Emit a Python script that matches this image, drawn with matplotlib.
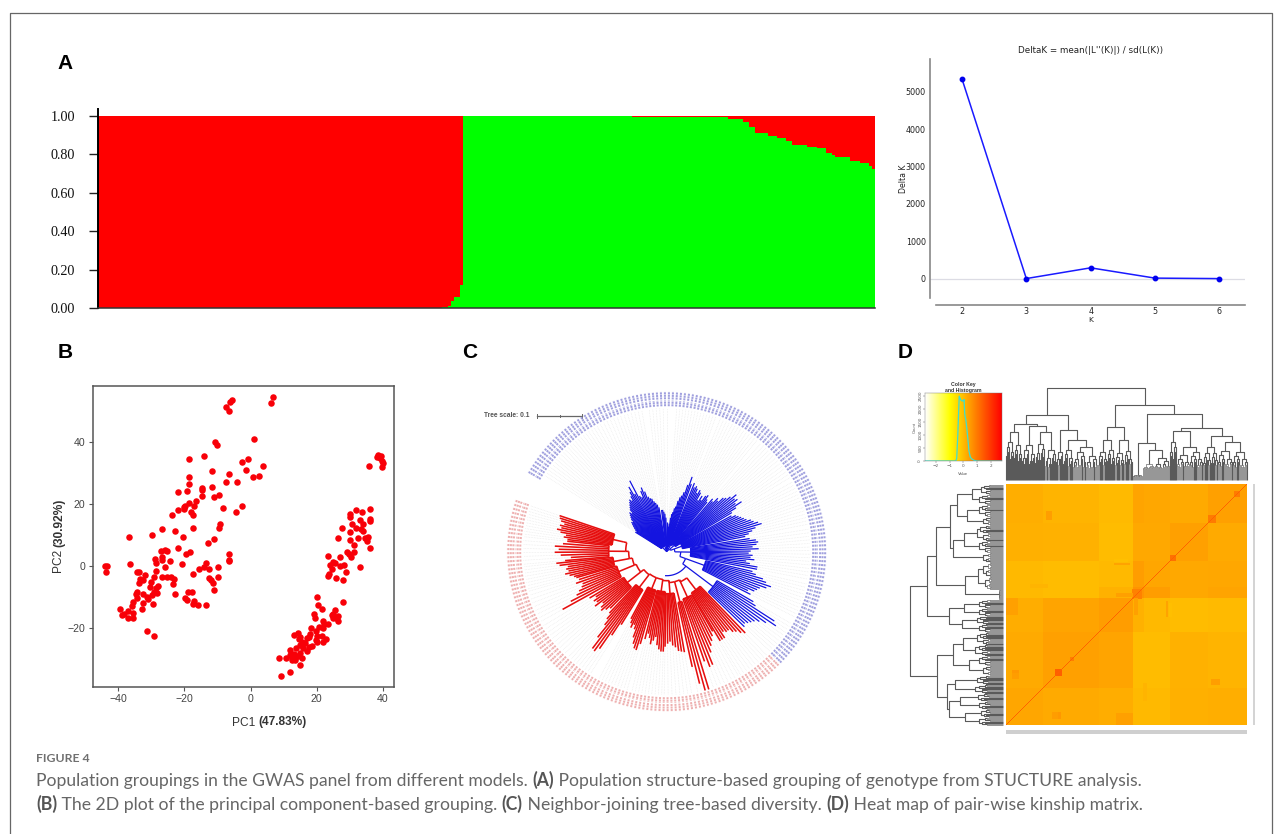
import numpy as np
import matplotlib
matplotlib.use('Agg')
import matplotlib.pyplot as plt
from matplotlib.collections import LineCollection
from matplotlib.colors import LinearSegmentedColormap
from matplotlib.patches import Rectangle

W, H = 1282, 834

# ---------- Panel A: STRUCTURE bar plot, runs of (samples, green share)
struct_counts = [112, 2, 1, 1, 2, 1, 55, 31, 5, 2, 2, 4, 3, 3, 2, 5, 3, 3, 2, 1, 5, 3, 3, 1, 1]
struct_green = [0, .004, .012, .036, .059, .12, 1, .995, .983, .971, .941, .913, .897, .885,
                .868, .851, .84, .832, .805, .797, .788, .767, .753, .741, .724]
struct_ticks = [0, .2, .4, .6, .8, 1.0]
struct_labels = ['0.00', '0.20', '0.40', '0.60', '0.80', '1.00']

# ---------- Panel A: Delta K
k_values = [2, 3, 4, 5, 6]
delta_k = [5340, 3, 290, 15, 2]

# ---------- Panel B: PCA
pc1 = [-44,-43.3,-43.8,-36.9,-36.4,-29.8,-26.8,-22.8,-20.3,-22,-27,-25.9,-25.3,-28.8,-28.6,-26.8,-26.8,-24.5,-25.8,-28.6,
       -19.4,-18.3,-20.7,-17.5,-15.7,-14,-13.5,-12.6,-9.9,-9.7,-12.5,-12.1,-11.5,-11.2,-6.5,-6.4,-6.6,-13,-11,
       -18.6,-14,-10.9,-10.1,-7.4,-6.5,-6.1,-5.5,6.2,6.7,1,-2.6,-.8,-1.4,3.8,2.6,.7,-6.4,-7.3,-4.2,-11.7,-11.7,-14.6,-14.6,-14.6,
       -11,-9.4,-18.5,-18.5,-19.3,-22.1,-16.4,-18.6,-19.7,-20,-20.1,-22.1,-17.2,-18.1,-17.3,-23.8,-8.3,-2.7,-4.5,-9.3,-9.6,-17.5,
       -34.4,-33.7,-31.9,-33.4,-32.4,-33.7,-30,-30.3,-29.2,-26.8,-25.3,-24,-23.3,-23.6,-22.8,-28.1,-28.6,-29.2,-28.2,-29.9,-31.2,
       -30.9,-32.4,-29.5,-32.9,-32.6,-34.3,-34.7,-34.3,-35.5,-35.9,-35.5,-37.1,-39.4,-38.9,-38.4,-37,-35.7,-31.4,-29.3,-18.9,-17.6,
       -19.7,-19.1,-17.2,-17.4,-15.8,-13.4,
       36,38.7,39.4,38.4,39.2,39.7,40,39.8,31.9,33.7,36.3,30.2,30.1,36.3,36.3,33.2,30.6,33.9,27.8,31.8,33.3,33.9,30.2,26.4,32.4,30.2,
       35.7,34.7,35.2,31.2,36.3,31.4,29.2,29.8,30.4,23.6,27,24.9,25.6,24.1,28.4,27.2,33,24.8,29,23.7,23.4,26,28.1,
       20.1,20.3,21.6,27.9,25.6,25.1,24.6,26.4,25.1,25.9,26.4,19.2,19.5,22,22.1,23.4,18.4,20.7,21.8,19.9,18.1,17.6,20.1,21.7,14.3,13.1,
       14.9,17.2,19.7,22.7,21.9,20.2,18.7,14.6,15.6,16.6,15.1,13.9,15.9,17.6,11.9,17,15.1,13.1,12.1,14.3,8.6,10.8,12.6,13.4,15.6,12.6,
       13.5,14.9,9.3,12.1]
pc2 = [0,0,-1.7,9.6,.9,10,12,11.5,9.4,6,4.8,5.3,5.1,2.3,1.2,3.1,2,1.8,-.3,-1.5,
       4,4.7,.8,-2.4,-.9,-.1,1,-.9,-.2,-3.4,-3.9,-4.4,-5.3,-7.5,4,1.9,1.6,7.5,8.7,
       34.5,35.7,40.1,39.3,51.3,50.1,52.9,53.5,52.6,54.6,41.1,33.8,34.5,31.1,32.4,29.2,28.7,29.8,27.3,27.1,30.6,25.7,25.4,24.5,22.6,
       22.4,22.9,28.8,26.6,24.4,24,21.2,20.6,19.6,19.2,18.5,18.3,19.5,17.6,16.5,16.6,18.7,19.5,17.4,13.6,12.3,12.3,
       -1.9,-1.8,-2.8,-4.2,-4.3,-5.2,-4.9,-6.6,-3.5,-3.3,-3.3,-3.3,-4.1,-5.6,-8.8,-6.3,-7.1,-8.2,-8.6,-9.2,-9.8,
       -10.6,-11.7,-12.1,-13.9,-9,-8.2,-9,-10.2,-11.5,-12.8,-15,-14.4,-13.9,-15.6,-15.5,-16.8,-16.5,-20.9,-22.3,-8.2,-8.2,
       -10.3,-10.8,-11.1,-12.1,-12.4,-12.3,
       32.3,36,35.7,35.2,34.9,34.1,33.3,32.2,18.2,17.4,18.5,16.8,15.8,15.2,14.7,15,13.7,13.6,12.4,12.3,12,11.4,11,9,9,8.4,
       9.6,9,8.1,6.9,5.8,4.7,4.5,3.9,3.1,3.2,2.9,1.5,1.2,.6,.6,.2,-.3,-1,-1.8,-2.6,-3,-3.8,-4.4,
       -9.8,-12.3,-13.6,-11.4,-14.2,-15.2,-15.7,-15.9,-16.5,-16.8,-17.6,-15.4,-16.8,-17.5,-18.6,-18.7,-19.9,-19.5,-20,-20.9,-21.9,-22.7,-22.4,-22.4,-21.4,-22.2,
       -22.7,-23.2,-23.8,-23.5,-24.3,-24.3,-25.6,-23.5,-24.3,-24.8,-25.4,-26.2,-26.2,-26.1,-27.1,-27.3,-27.9,-28.1,-28.7,-29,-29.6,-29.6,-29.4,-29.4,-29.7,-30.2,
       -30.2,-31.7,-35.3,-34.1]

# ---------- Panel C: tree clades, clockwise. Radii are in pixels from the tree centre.
blue_tips = [
    [37,36,38,40,42,44,46,45,48,50,52,54,52,56,58,60,62,64,62,66,70,75,66],
    [80,62,60,66,69,64,58,56,55,52,50,48,45],
    [42,42,40,38,34,30],
    [25,28,34,38,40,44,46,52,56,58,62,70,79,72],
    [74,70,72,70,66,70,68,60,66,62,68,70,66,64],
    [70,68,74,72,78,80,84,90,86,88,84,90,82,76],
    [74,78,80,82,84,86,90,92,96,99,92,88,84,80],
    [84,90,92,90,86,92,84,82,86,84,88,80,84,92,92],
    [88,92,100,104,110,106,100,98,96,90,94],
    [100,104,128,132,122,116,112,110,108,106,108]]
blue_span = [(148, 119), (117.5, 100), (97, 90), (86, 70), (68, 51), (49, 31), (29, 11), (9, -11), (-13, -27), (-30, -44)]
blue_base = [6, 6, 6, 5, 8, 10, 16, 24, 40, 58]
blue_stem = [0, 0, 0, 0, 2, 4, 8, 14, 20, 24]
red_tips = [
    [113,110,106,104,100,100,98,104,104,104],
    [92,96,100,104,110,122,123,116],
    [144,144,136,118],
    [102,101,100,96,94,90,92,95],
    [100,100,98,94,86,90,94,88,84,90],
    [96,103,102,98,92,84,80,84,80,76],
    [86,100,118,123,122,110,96,90,84],
    [80,84,88,86,82,90,86,88,84,90],
    [119,108,100,96,92,90,96,92,94],
    [96,100,104,100,102,100,108,111],
    [102,96,106,112,108,112,104,100],
    [100,104,102,108,112,108,110,106,110,112,113]]
red_span = [(-46, -59), (-60, -71), (-73, -77.5), (-80, -91), (-92, -104), (-106, -118), (-122, -133), (-135, -149),
            (-151, -164), (-165, -174), (-175, -186), (-187, -198.6)]
red_base = [48, 50, 52, 42, 40, 40, 45, 50, 52, 54, 58, 55]
red_stem = [33, 31, 31, 29, 28, 28, 29, 33, 35, 38, 41, 44]

# ---------- Panel D: dendrograms as (height, left, right); tufts as (height, leaves)
top_tree = (92.3,
    (65.7,
        (55.7, (48.3, (38, 8), (35, 8)), (54, (35, 13), (47.7, (36, 10), (30, 11)))),
        (49.7, (28, 7), (39.7, (30, 10), (33, 25)))),
    (75.7,
        (53.3, (40, (28, 9), (30, 8)), (40, (27, 9), (29, 9))),
        (66.7,
            (37.3, (5, 10), (30, (16, 12), (22, 15))),
            (52.3,
                (49.3, (38, 7), (33, (25, 13), (28, 13))),
                (44.3, (33, (27, 9), (27, 6)), (38, (29, 15), (28, 15)))))))
left_tree = (92.7,
    (76,
        (67,
            (52.7,
                (45.3, (31, (22, 10), (24, 10)), (36, (24, 12), (20, 9))),
                (49.3, (39, (26, 15), (24, 12)), (20, 10))),
            (37.3, (25, (20, 14), (18, 13)), (4, 10))),
        (53.7, (39, (24, 9), (24, 8)), (41, (26, 8), (24, 8)))),
    (66,
        (50, (40, (26, 12), (28, 11)), (34, (24, 10), (20, 10))),
        (56, (48, (26, 9), (28, 9)), (54, (43, (25, 8), (24, 8)), (38, (22, 8), (24, 8))))))

# Kinship matrix: block sizes and block scores, bottom-left to top-right
kin_sizes = [37, 56, 34, 11, 26, 38, 39]
kin_blocks = [
    [.31, .25, .21, .03, .03, .17, .19],
    [.25, .41, .33, -.01, -.01, .13, .09],
    [.21, .33, .45, .13, .03, -.01, .01],
    [.03, -.01, .13, .58, .45, .28, .33],
    [.03, -.01, .03, .45, .31, .27, .30],
    [.17, .13, -.01, .28, .27, .39, .25],
    [.19, .09, .01, .33, .30, .25, .39]]
kin_patches = [(49, 56, 49, 56, 1.35), (164, 170, 164, 170, 1.1), (202, 210, 202, 210, .95),
               (126, 136, 126, 136, .85), (228, 234, 228, 234, .95), (64, 68, 64, 68, .9),
               (6, 13, 49, 55, .5), (46, 52, 6, 13, .45), (205, 214, 40, 46, .42), (110, 127, 0, 12, .4),
               (163, 166, 108, 122, -.05), (108, 124, 160, 162, .35), (110, 127, 128, 132, .4),
               (24, 42, 137, 141, .1)]
kin_diag = 1.3
hist_x = [-2.77, -.55, -.48, -.4, -.3, -.2, -.1, 0, .05, .1, .2, .3, .4, .5, .6, .8, 1, 2.77]
hist_y = [0, 0, 100, 1000, 2480, 2350, 2300, 2300, 2350, 1800, 1500, 1000, 400, 150, 80, 20, 0, 0]

caption_1 = [("Population groupings in the GWAS panel from different models. ", 0), ("(A)", 1),
             (" Population structure-based grouping of genotype from STUCTURE analysis.", 0)]
caption_2 = [("(B)", 1), (" The 2D plot of the principal component-based grouping. ", 0), ("(C)", 1),
             (" Neighbor-joining tree-based diversity. ", 0), ("(D)", 1), (" Heat map of pair-wise kinship matrix.", 0)]

SANS = 'Liberation Sans'
fig = plt.figure(figsize=(W / 100, H / 100), dpi=100, facecolor='white')

def px_axes(l, t, r, b, **kw):
    return fig.add_axes([l / W, 1 - b / H, (r - l) / W, (b - t) / H], **kw)

page = px_axes(0, 0, W, H)
page.set_xlim(0, W); page.set_ylim(H, 0); page.axis('off')
page.plot([9.5, 9.5, 1272, 1272], [H, 12.5, 12.5, H], color='#666666', lw=0.9)
renderer = fig.canvas.get_renderer()

def measure(s, b, size, family):
    t = page.text(0, 0, '|' + s + '|', fontsize=size, family=family, fontweight='bold' if b else 'normal')
    w = t.get_window_extent(renderer).width
    t.set_text('||'); w -= t.get_window_extent(renderer).width
    t.remove()
    return w

def run_text(x, y, runs, size, rotation=0, color='#666666', bold_color='#555555', family='Lato'):
    for s, b in runs:
        page.text(x, y, s, fontsize=size, family=family, fontweight='bold' if b else 'normal',
                  color=bold_color if b else color, rotation=rotation, ha='left', va='baseline',
                  rotation_mode='anchor')
        w = measure(s, b, size, family)
        if rotation == 90:
            y -= w
        else:
            x += w

def run_width(runs, size, family='Lato'):
    return sum(measure(s, b, size, family) for s, b in runs)

# Caption
page.text(36, 762, 'FIGURE 4', fontsize=8.8, family='Lato', fontweight='bold', color='#707070', va='baseline')
run_text(36, 786, caption_1, 10 * 1106.5 / run_width(caption_1, 10))
run_text(36, 810, caption_2, 10 * 1109 / run_width(caption_2, 10))

# Panel letters
for s, x, y in [('A', 65, 63), ('B', 65, 352), ('C', 470, 352), ('D', 905, 352)]:
    page.text(x, y, s, fontsize=15, family=SANS, fontweight='bold', color='black', ha='center', va='center')

# ---------- A: structure
ax = px_axes(98, 109, 875, 308)
counts = np.array(struct_counts)
green = np.repeat(struct_green, counts)
edges = np.arange(len(green) + 1)
ax.stairs(green, edges, fill=True, color='#00ff00', lw=0)
ax.stairs(np.ones(len(green)), edges, baseline=green, fill=True, color='#ff0000', lw=0)
ax.set_xlim(0, len(green)); ax.set_ylim(0, 199 / 192)
ax.set_xticks([]); ax.set_yticks(struct_ticks, struct_labels, family='Liberation Serif', fontsize=10.2)
ax.tick_params(axis='y', length=6.5, width=1, pad=10, color='#222222', labelcolor='#111111')
for s in ['top', 'right']:
    ax.spines[s].set_visible(False)
ax.spines['left'].set_linewidth(1.4); ax.spines['bottom'].set_linewidth(1.1)
ax.spines['bottom'].set_color('#333333')

# ---------- A: delta K
ax = px_axes(930, 59.3, 1245, 305)
ax.axhline(0, color='#dcdce4', lw=0.9, zorder=1)
ax.plot(k_values, delta_k, color='#1a1aff', lw=1.1, marker='o', ms=3.2, mfc='#0000ee', mec='#0000ee', zorder=3)
ax.set_xlim(1.5025, 6.4); ax.set_ylim(-704, 5866)
ax.set_xticks(k_values); ax.set_yticks(range(0, 6000, 1000))
ax.tick_params(length=0, labelsize=5.8, pad=3, labelcolor='#222222')
ax.tick_params(axis='x', pad=1.2)
for s in ['top', 'right']:
    ax.spines[s].set_visible(False)
ax.spines['left'].set_bounds(-518, 5866); ax.spines['bottom'].set_bounds(1.6, 6.4)
for s in ['left', 'bottom']:
    ax.spines[s].set_color('#888888'); ax.spines[s].set_linewidth(1.2)
page.text(1091, 50.7, "DeltaK = mean(|L''(K)|) / sd(L(K))", fontsize=6.3, ha='center', va='center', color='#222222')
page.text(1091, 320, 'K', fontsize=5.4, ha='center', va='center', color='#222222')
page.text(903.5, 179, 'Delta K', fontsize=5.6, rotation=90, ha='center', va='center', color='#222222')

# ---------- B: PCA
ax = px_axes(92.7, 386, 394, 686.7)
ax.scatter(pc1, pc2, s=22, color='#f80008', lw=0, zorder=3, clip_on=False)
ax.set_xlim(-47.77, 43.43); ax.set_ylim(-38.8, 58.17)
ax.set_xticks([-40, -20, 0, 20, 40]); ax.set_yticks([-20, 0, 20, 40])
ax.tick_params(length=3, width=0.8, color='#555555', labelcolor='#444444', labelsize=7.6, pad=2.5)
for lab in ax.get_xticklabels() + ax.get_yticklabels():
    lab.set_family(SANS)
for s in ax.spines.values():
    s.set_color('#555555'); s.set_linewidth(1.1)
pc_x = [("PC1 ", 0), ("(47.83%)", 1)]
wid = run_width(pc_x, 8.6, SANS)
run_text(269 - wid / 2, 725.5, pc_x, 8.6, color='#333333', bold_color='#333333', family=SANS)
pc_y = [("PC2 ", 0), ("(30.92%)", 1)]
wid = run_width(pc_y, 8.6, SANS)
run_text(62, 536 + wid / 2, pc_y, 8.6, rotation=90, color='#333333', bold_color='#333333', family=SANS)

# ---------- C: circular tree
R = 172
ax = px_axes(666.7 - R, 551.7 - R, 666.7 + R, 551.7 + R)
ax.set_xlim(-R, R); ax.set_ylim(-R, R); ax.axis('off')

def pol(theta, r):
    t = np.deg2rad(theta)
    return np.column_stack([r * np.cos(t), r * np.sin(t)])

def arc(a, b, r):
    th = np.linspace(a, b, max(2, int(abs(a - b)) + 2))
    return pol(th, np.full_like(th, r))

def draw_tree(tips, spans, base, stem, ring_a0, ring_a1, color, ring_col, lw):
    leaf, guide, mids = [], [], []
    for tp, sp, bs, st in zip(tips, spans, base, stem):
        th = np.linspace(sp[0], sp[1], len(tp))
        for a, r in zip(th, tp):
            leaf.append(pol(np.array([a, a]), np.array([bs, r], float)))
            guide.append(pol(np.array([a, a]), np.array([r, 143.5], float)))
        leaf.append(arc(th[0], th[-1], bs))
        mid = th.mean()
        mids.append((mid, st))
        leaf.append(pol(np.array([mid, mid]), np.array([st, bs], float)))
    for (m0, s0), (m1, s1) in zip(mids[:-1], mids[1:]):
        leaf.append(arc(m0, m1, s0))
        leaf.append(pol(np.array([m1, m1]), np.array([s0, s1], float)))
    n = sum(len(t) for t in tips)
    ring = []
    for a in np.linspace(ring_a0, ring_a1, n):
        ring.append(pol(np.array([a, a]), np.array([145.5, 151.2])))
        ring.append(pol(np.array([a, a]), np.array([152.4, 160.0])))
    ax.add_collection(LineCollection(guide, colors='#e4e4e4', linewidths=0.45, linestyles=(0, (1, 1.5)), zorder=1))
    ax.add_collection(LineCollection(ring, colors=ring_col, linewidths=1.45, linestyles=(0, (1.0, 0.25)), zorder=2))
    ax.add_collection(LineCollection(leaf, colors=color, linewidths=lw, zorder=3))
    return mids

blue_mids = draw_tree(blue_tips, blue_span, blue_base, blue_stem, 150, -44, '#1414e0', '#a0a0de', 0.9)
red_mids = draw_tree(red_tips, red_span, red_base, red_stem, -45.5, -198.6, '#e60f0f', '#eeb0b0', 1.15)
root = [arc(blue_mids[-1][0], -94, blue_stem[-1])]
ax.add_collection(LineCollection(root, colors='#1414e0', linewidths=0.9, zorder=3))

page.text(484, 415.7, 'Tree scale: 0.1', fontsize=4.8, family=SANS, fontweight='bold', color='#555555', va='center')
page.plot([537, 582], [415.7, 415.7], color='#666666', lw=0.9)
page.plot([537, 537, np.nan, 559.5, 559.5, np.nan, 582, 582], [413.5, 418, np.nan, 414.7, 416.7, np.nan, 413.5, 418], color='#666666', lw=0.7)

# ---------- D: dendrograms
def build(node, pos, segs, depth=0):
    if len(node) == 3:
        h, a, b = node
        xa, ha, pos = build(a, pos, segs, depth + 1)
        xb, hb, pos = build(b, pos, segs, depth + 1)
        segs.append([(xa, ha), (xa, h), (xb, h), (xb, hb)])
        return (xa + xb) / 2, h, pos
    h, n = node
    if n == 1:
        return pos + .5, 0, pos + 1
    if n == 2:
        segs.append([(pos + .5, 0), (pos + .5, h), (pos + 1.5, h), (pos + 1.5, 0)])
        return pos + 1, h, pos + 2
    nl = (n + 1) // 2
    f = (.86, .74) if depth % 2 == 0 else (.74, .86)
    floor = min(h * .92, 13)
    xa, ha, pos = build((max(h * f[0], floor), nl), pos, segs, depth + 1)
    xb, hb, pos = build((max(h * f[1], floor), n - nl), pos, segs, depth + 1)
    segs.append([(xa, ha), (xa, h), (xb, h), (xb, hb)])
    return (xa + xb) / 2, h, pos

def draw_dendro(ax, segs):
    upper = [s for s in segs if s[1][1] > 16]
    lower = [s for s in segs if s[1][1] <= 16]
    if ax.get_label() == 'left':
        upper = [[(h, p) for p, h in s] for s in upper]
        lower = [[(h, p) for p, h in s] for s in lower]
    ax.add_collection(LineCollection(lower, colors='#6a6a6a', linewidths=0.5, clip_on=False))
    ax.add_collection(LineCollection(upper, colors='#5a5a5a', linewidths=0.8, clip_on=False))

segs = []; build(top_tree, 0, segs)
ax = px_axes(1006, 388, 1247, 480, label='top')
draw_dendro(ax, segs)
ax.set_xlim(0, 242); ax.set_ylim(0, 92.3); ax.axis('off')

segs = []; build(left_tree, 0, segs)
ax = px_axes(910, 484, 1002.7, 725, label='left')
draw_dendro(ax, segs)
ax.set_xlim(92.7, 0); ax.set_ylim(241, 0); ax.axis('off')

# ---------- D: kinship heat map and colour key
key_cmap = LinearSegmentedColormap.from_list('key', [(0, '#ffffff'), (1.77 / 5.54, '#ffff00'), (1, '#ff0000')])
idx = np.repeat(np.arange(len(kin_sizes)), kin_sizes)
kin = np.array(kin_blocks)[np.ix_(idx, idx)]
for i0, i1, j0, j1, v in kin_patches:
    kin[j0:j1, i0:i1] = v
    kin[i0:i1, j0:j1] = v
np.fill_diagonal(kin, kin_diag)
ax = px_axes(1006, 484, 1246.7, 725)
ax.imshow(kin, origin='lower', cmap=key_cmap, vmin=-2.77, vmax=2.77, aspect='auto', interpolation='bilinear')
ax.axis('off')
page.add_patch(Rectangle((1252.7, 484), 2.4, 241, color='#d4d4d4', lw=0))
page.add_patch(Rectangle((1006, 730), 241, 4, color='#cfcfcf', lw=0))

ax = px_axes(925, 393.3, 1001.7, 461)
ax.imshow(np.linspace(-2.77, 2.77, 256)[None, :], cmap=key_cmap, vmin=-2.77, vmax=2.77, aspect='auto',
          extent=[-2.77, 2.77, 0, 2590])
ax.plot(hist_x, hist_y, color='#3fe0cc', lw=0.9)
ax.set_xlim(-2.77, 2.77); ax.set_ylim(0, 2590)
ax.set_xticks([-2, -1, 0, 1, 2]); ax.set_yticks([0, 500, 1000, 1500, 2000, 2500])
ax.tick_params(length=1.2, width=0.3, labelsize=3, pad=0.8, color='#555555', labelcolor='#555555')
for lab in ax.get_yticklabels():
    lab.set_rotation(90); lab.set_va('center')
for s in ax.spines.values():
    s.set_linewidth(0.3); s.set_color('#777777')
page.text(963, 387.5, 'Color Key\nand Histogram', fontsize=3.7, family=SANS, fontweight='bold', ha='center', va='center',
          color='#333333', linespacing=1.1)
page.text(963, 474, 'Value', fontsize=3, family=SANS, ha='center', va='center', color='#555555')
page.text(915, 427, 'Count', fontsize=3, family=SANS, rotation=90, ha='center', va='center', color='#555555')

fig.savefig('out.png', dpi=100, facecolor='white')
